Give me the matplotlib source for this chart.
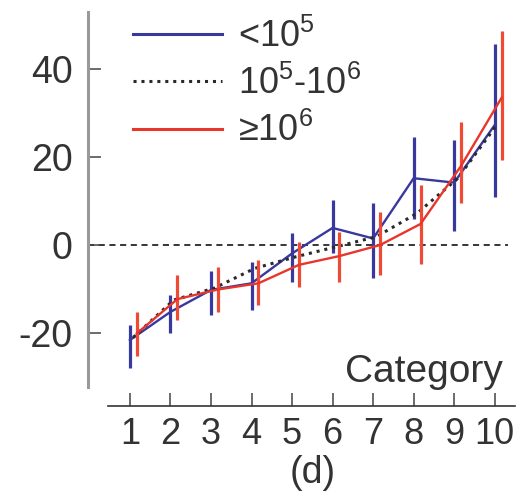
import numpy as np
import matplotlib.pyplot as plt

plt.rcParams['font.family'] = ['Liberation Sans', 'DejaVu Sans']
plt.rcParams['mathtext.fontset'] = 'custom'
plt.rcParams['mathtext.rm'] = 'Liberation Sans'
plt.rcParams['mathtext.it'] = 'Liberation Sans'
plt.rcParams['mathtext.default'] = 'regular'
plt.rcParams['axes.unicode_minus'] = False

categories = np.arange(1, 11)

# <10^5
low_mean = [-21.6, -15.2, -10.2, -8.7, -1.9, 3.9, 1.5, 15.2, 14.2, 27.3]
low_lo = [-28.0, -20.0, -16.0, -14.8, -8.3, -1.9, -7.6, 6.0, 3.3, 11.0]
low_hi = [-18.2, -11.4, -6.0, -3.8, 2.8, 10.2, 9.6, 24.6, 24.0, 45.8]

# 10^5-10^6
mid_mean = [-21.0, -12.5, -9.8, -5.3, -2.7, -0.4, 1.9, 7.2, 15.1, 27.7]

# >=10^6
high_mean = [-20.1, -12.3, -10.1, -8.7, -4.5, -2.5, 0.0, 4.8, 18.0, 33.5]
high_lo = [-25.2, -17.0, -15.2, -13.6, -9.6, -8.3, -6.8, -4.2, 9.6, 19.3]
high_hi = [-15.2, -6.8, -4.9, -3.3, 0.8, 3.0, 7.6, 13.6, 28.0, 48.7]

labels = [r'<10$^5$', r'10$^5$-10$^6$', '\u226510$^6$']

blue = '#38389e'
red = '#e8362c'

fig = plt.figure(figsize=(5.2, 4.94), dpi=100)
ax = fig.add_axes([88 / 520, 1 - 406 / 494, 427 / 520, 394 / 494])

ax.axhline(0, xmin=0, xmax=0.984, color='black', ls=(0, (4, 3)), lw=1.1, zorder=1)

x_low = categories
x_mid = categories + 0.08
x_high = categories + 0.17

ax.vlines(x_low, low_lo, low_hi, color=blue, lw=2.3, zorder=2)
ax.plot(x_low, low_mean, color=blue, lw=1.7, label=labels[0], zorder=3)
ax.plot(x_mid, mid_mean, color='#2a2a2a', lw=2.2, ls=(0, (1, 1.6)), label=labels[1], zorder=4)
ax.vlines(x_high, high_lo, high_hi, color='#ee4a36', lw=2.3, zorder=5)
ax.plot(x_high, high_mean, color=red, lw=1.7, label=labels[2], zorder=6)

ax.set_xlim(-0.034, 10.5)
ax.set_ylim(-36.6, 53)
ax.set_xticks(categories)
ax.set_yticks([-20, 0, 20, 40])

for s in ['top', 'right']:
    ax.spines[s].set_visible(False)
ax.spines['left'].set_bounds(-32.3, 53)
ax.spines['left'].set_color('#999999')
ax.spines['left'].set_linewidth(2.2)
ax.spines['bottom'].set_bounds(0.46, 10.5)
ax.spines['bottom'].set_color('#333333')
ax.spines['bottom'].set_linewidth(1.2)

ax.tick_params(axis='both', direction='in', length=9.5, width=1.1, color='#444444',
               labelcolor='#333333')
ax.tick_params(axis='y', pad=11, labelsize=27)
ax.tick_params(axis='x', pad=8, labelsize=26)

leg = ax.legend(loc='upper left', bbox_to_anchor=(0.03, 1.065), frameon=False,
                fontsize=26, handlelength=2.45, handletextpad=0.45, labelspacing=0.3)
for t in leg.get_texts():
    t.set_color('#333333')
for h in leg.get_lines():
    h.set_linewidth(2.2)

fig.text(503 / 520, 1 - 382 / 494, 'Category', ha='right', va='baseline',
         fontsize=28, color='#333333')
fig.text(313 / 520, 1 - 473 / 494, '(d)', ha='center', va='center',
         fontsize=27, color='#333333')

fig.savefig('out.png', dpi=100)
